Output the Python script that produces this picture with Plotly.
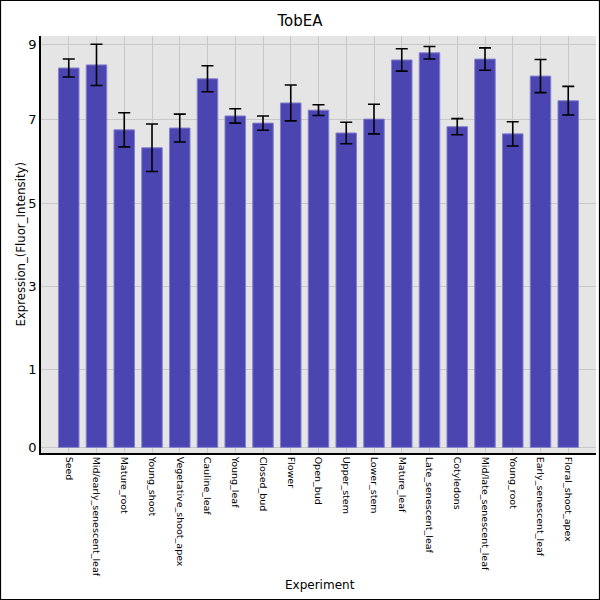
import plotly.graph_objects as go

categories = ["Seed", "Mid/early_senescent_leaf", "Mature_root", "Young_shoot",
              "Vegetative_shoot_apex", "Cauline_leaf", "Young_leaf", "Closed_bud",
              "Flower", "Open_bud", "Upper_stem", "Lower_stem", "Mature_leaf",
              "Late_senescent_leaf", "Cotyledons", "Mid/late_senescent_leaf",
              "Young_root", "Early_senescent_leaf", "Floral_shoot_apex"]
values = [8.47, 8.54, 7.09, 6.69, 7.13, 8.23, 7.40, 7.24, 7.69, 7.53,
          7.02, 7.33, 8.65, 8.81, 7.16, 8.67, 7.00, 8.29, 7.74]
errors = [0.20, 0.46, 0.38, 0.53, 0.31, 0.29, 0.16, 0.16, 0.40, 0.12,
          0.24, 0.33, 0.25, 0.14, 0.18, 0.25, 0.27, 0.37, 0.32]
y_tickvals = [0, 1.734, 3.592, 5.453, 7.327, 9.0]
y_ticktext = ["0", "1", "3", "5", "7", "9"]
x_title = "Experiment"
y_title = "Expression_(Fluor_Intensity)"

FONT = "DejaVu Sans"

fig = go.Figure()
fig.add_trace(go.Bar(
    x=list(range(len(categories))),
    y=values,
    marker=dict(color="rgb(75,69,178)", line=dict(color="rgb(135,130,205)", width=1)),
    error_y=dict(type="data", array=errors, visible=True, color="black",
                 thickness=1.6, width=6),
    width=0.74,
    hoverinfo="skip",
))

fig.update_layout(
    width=600, height=600,
    margin=dict(l=41, r=4, t=36, b=147),
    paper_bgcolor="white",
    plot_bgcolor="#E5E5E5",
    showlegend=False,
    title=dict(text="TobEA", x=0.5, xanchor="center", y=0.966, yanchor="middle",
               font=dict(family=FONT, size=15, color="black")),
    font=dict(family=FONT, color="black"),
    xaxis=dict(
        range=[-1, 19],
        tickmode="array",
        tickvals=list(range(len(categories))),
        ticktext=categories,
        tickangle=90,
        tickfont=dict(family=FONT, size=9.5, color="black"),
        showgrid=True, gridcolor="#C8C8C8", gridwidth=1,
        showline=True, linecolor="black", linewidth=1.5,
        ticks="", zeroline=False,
        automargin=False,
    ),
    yaxis=dict(
        range=[-0.125, 9.185],
        tickmode="array",
        tickvals=y_tickvals,
        ticktext=y_ticktext,
        tickfont=dict(family=FONT, size=13, color="black"),
        showgrid=True, gridcolor="#C8C8C8", gridwidth=1,
        showline=True, linecolor="black", linewidth=1.5,
        ticks="", zeroline=False,
        automargin=False,
    ),
    annotations=[
        dict(text=x_title, xref="paper", yref="paper", x=0.503, y=(453 - 585) / 417,
             xanchor="center", yanchor="middle", showarrow=False,
             font=dict(family=FONT, size=12, color="black")),
        dict(text=y_title, xref="paper", yref="paper", x=(20 - 41) / 555, y=0.5,
             xanchor="center", yanchor="middle", showarrow=False, textangle=-90,
             font=dict(family=FONT, size=11.7, color="black")),
    ],
    shapes=[dict(type="rect", xref="paper", yref="paper",
                 x0=(0.5 - 41) / 555, x1=(599.5 - 41) / 555,
                 y0=(453 - 599.5) / 417, y1=(453 - 0.5) / 417,
                 line=dict(color="black", width=1.2), fillcolor="rgba(0,0,0,0)",
                 layer="above")],
)

fig.write_html("out.html", config={"displayModeBar": False},
               post_script="document.body.style.margin='0';document.body.style.overflow='hidden';")
